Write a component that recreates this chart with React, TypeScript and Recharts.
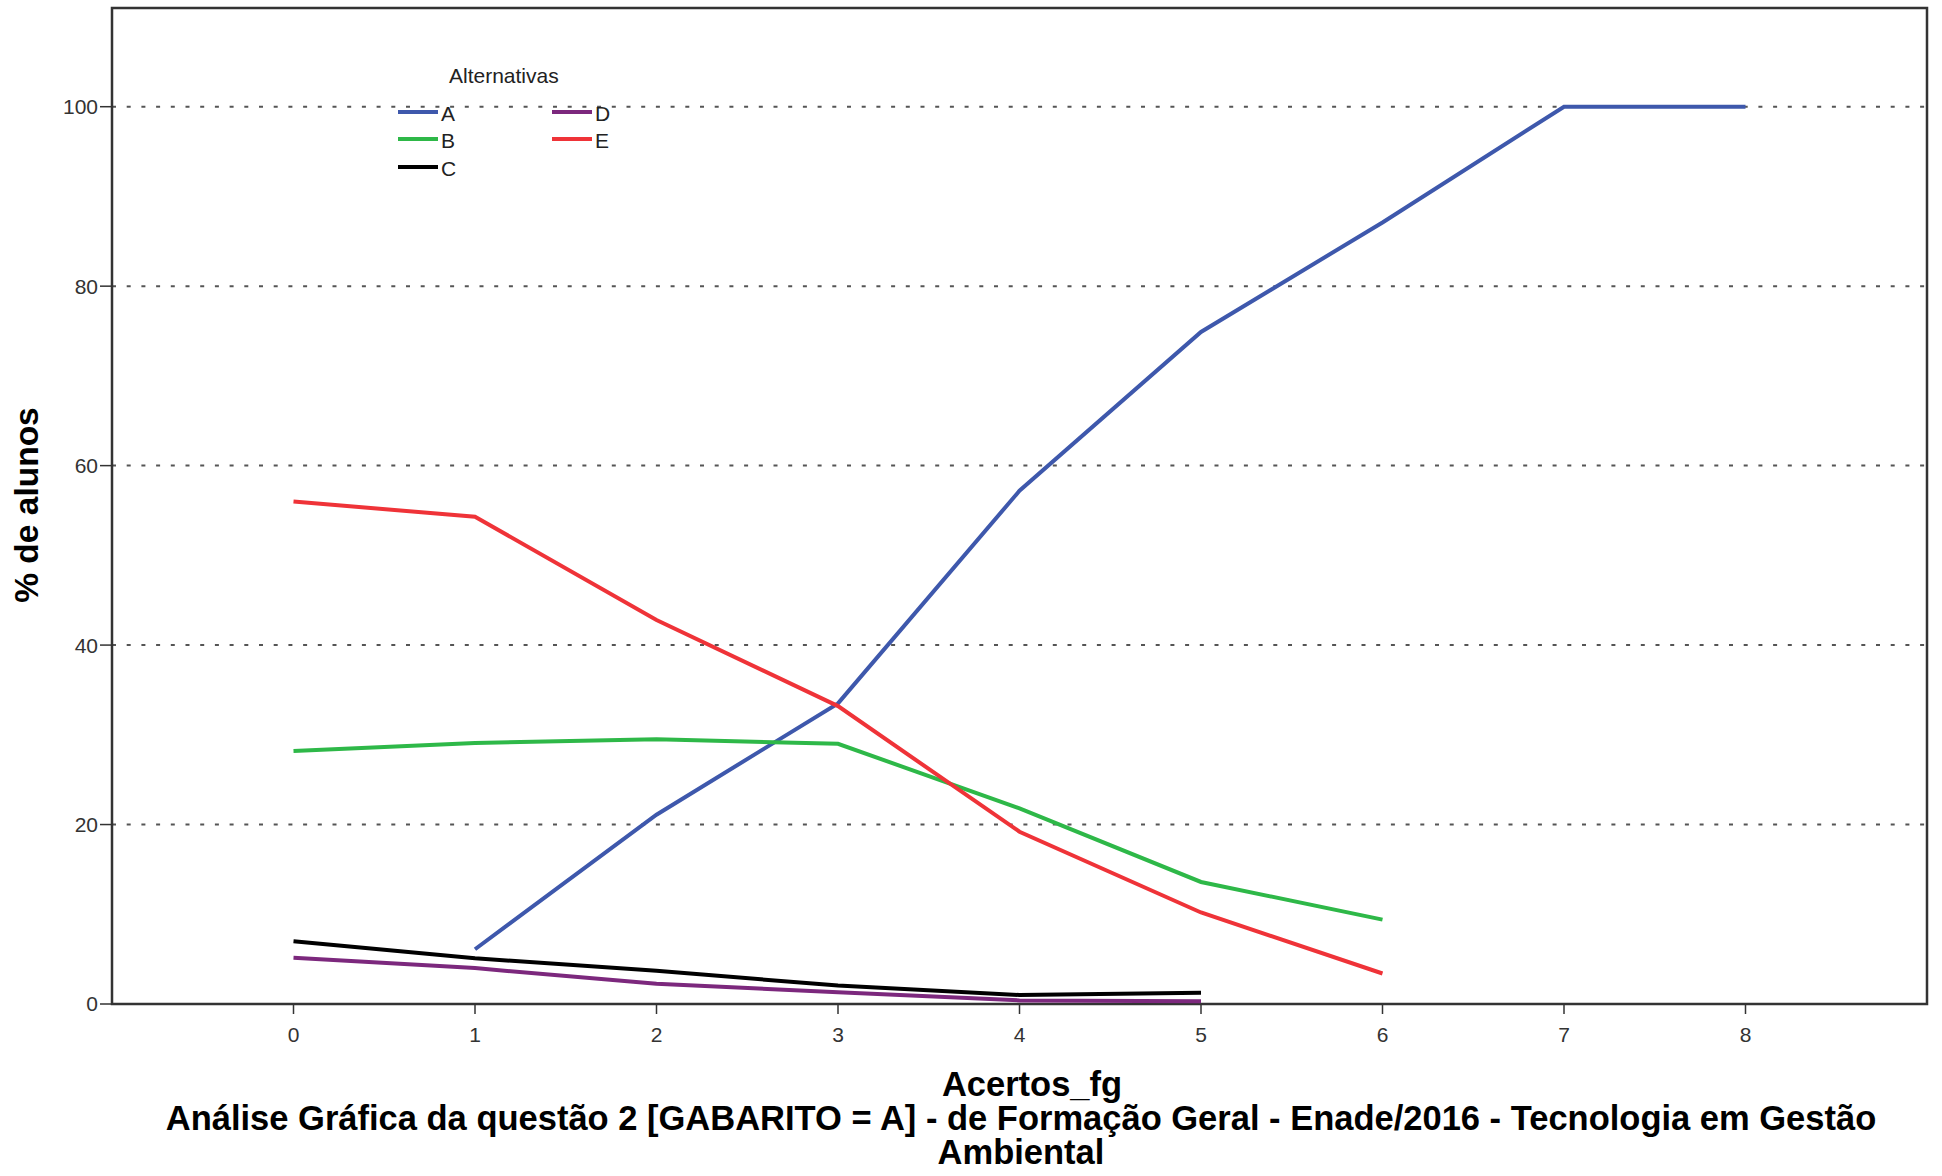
import React from 'react';
import { LineChart, Line, XAxis, YAxis, CartesianGrid, ReferenceArea } from 'recharts';

const acertos = [0, 1, 2, 3, 4, 5, 6, 7, 8];
const serieA = [null, 6.1, 21.1, 33.5, 57.2, 74.9, 87.1, 100, 100];
const serieB = [28.2, 29.1, 29.5, 29.0, 21.8, 13.6, 9.4, null, null];
const serieC = [7.0, 5.1, 3.7, 2.05, 1.0, 1.25, null, null, null];
const serieD = [5.15, 4.0, 2.25, 1.3, 0.4, 0.3, null, null, null];
const serieE = [56.0, 54.3, 42.8, 33.2, 19.2, 10.2, 3.4, null, null];

const xTicks = [0, 1, 2, 3, 4, 5, 6, 7, 8];
const yTicks = [0, 20, 40, 60, 80, 100];

const seriesNames = ['A', 'B', 'C', 'D', 'E'];
const seriesColors = ['#3E58AC', '#2EB848', '#000000', '#7C287D', '#EF3338'];
const legendTitle = 'Alternativas';
const xTitle = 'Acertos_fg';
const yTitle = '% de alunos';
const titleLines = [
  'Análise Gráfica da questão 2 [GABARITO = A] - de Formação Geral - Enade/2016 - Tecnologia em Gestão',
  'Ambiental',
];

const data = acertos.map((x, i) => ({
  acertos: x,
  A: serieA[i],
  B: serieB[i],
  C: serieC[i],
  D: serieD[i],
  E: serieE[i],
}));

const FONT = '"Liberation Sans", Arial, sans-serif';
const TITLE_SIZE = 34.5;
const LH = 32;

function LegendBox() {
  const cols = [[0, 1, 2], [3, 4]];
  const colX = [398, 552];
  const rowY = [112, 139, 167];
  return (
    <div style={{ position: 'absolute', left: 0, top: 0, width: 1942, height: 1176, pointerEvents: 'none' }}>
      <div
        style={{
          position: 'absolute',
          left: 449,
          top: 64,
          fontFamily: FONT,
          fontSize: 21,
          color: '#222',
          lineHeight: '24px',
          whiteSpace: 'nowrap',
        }}
      >
        {legendTitle}
      </div>
      {cols.map((col, ci) =>
        col.map((si, ri) => (
          <div
            key={seriesNames[si]}
            style={{ position: 'absolute', left: colX[ci], top: rowY[ri] - 12, height: 24, display: 'flex', alignItems: 'center' }}
          >
            <svg width={40} height={24} style={{ display: 'block' }}>
              <line x1={0} y1={12} x2={40} y2={12} stroke={seriesColors[si]} strokeWidth={4} />
            </svg>
            <span style={{ fontFamily: FONT, fontSize: 21, color: '#222', marginLeft: 3, lineHeight: '24px', position: 'relative', top: 2 }}>
              {seriesNames[si]}
            </span>
          </div>
        ))
      )}
    </div>
  );
}

export default function App() {
  return (
    <div style={{ position: 'absolute', left: 0, top: 0, width: 1942, height: 1176, background: '#fff' }}>
      <LineChart
        width={1942}
        height={1176}
        data={data}
        margin={{ top: 8, right: 15, bottom: 132, left: 0 }}
      >
        <CartesianGrid
          vertical={false}
          stroke="#555"
          strokeDasharray="4 10.7"
          strokeWidth={2}
          horizontalValues={yTicks}
        />
        <XAxis
          dataKey="acertos"
          type="number"
          domain={[-1, 9]}
          ticks={xTicks}
          allowDataOverflow
          height={40}
          tickSize={10}
          tickMargin={13}
          axisLine={false}
          tickLine={{ stroke: '#333', strokeWidth: 1.5 }}
          tick={{ fontFamily: FONT, fontSize: 21, fill: '#333' }}
        />
        <YAxis
          type="number"
          domain={[0, 111]}
          ticks={yTicks}
          allowDataOverflow
          width={112}
          tickSize={12}
          tickMargin={2}
          axisLine={false}
          tickLine={{ stroke: '#333', strokeWidth: 1.5 }}
          tick={{ fontFamily: FONT, fontSize: 21, fill: '#333' }}
        />
        <ReferenceArea x1={-1} x2={9} y1={0} y2={111} fill="none" stroke="#333" strokeWidth={2.5} ifOverflow="visible" />
        {seriesNames.map((name, i) => (
          <Line
            key={name}
            type="linear"
            dataKey={name}
            stroke={seriesColors[i]}
            strokeWidth={4}
            dot={false}
            activeDot={false}
            connectNulls={false}
            isAnimationActive={false}
          />
        ))}
      </LineChart>
      <LegendBox />
      <div
        style={{
          position: 'absolute',
          left: 27 - 150,
          top: 505 - 20,
          width: 300,
          height: 40,
          transform: 'rotate(-90deg)',
          textAlign: 'center',
          fontFamily: FONT,
          fontWeight: 'bold',
          fontSize: 33.5,
          lineHeight: '40px',
          color: '#000',
        }}
      >
        {yTitle}
      </div>
      <div
        style={{
          position: 'absolute',
          left: 1032 - 300,
          top: 1084 - LH / 2,
          width: 600,
          height: LH,
          textAlign: 'center',
          fontFamily: FONT,
          fontWeight: 'bold',
          fontSize: TITLE_SIZE,
          lineHeight: `${LH}px`,
          color: '#000',
        }}
      >
        {xTitle}
      </div>
      {titleLines.map((t, i) => (
        <div
          key={i}
          style={{
            position: 'absolute',
            left: 1021 - 950,
            top: 1118 + i * 34 - LH / 2,
            width: 1900,
            height: LH,
            textAlign: 'center',
            fontFamily: FONT,
            fontWeight: 'bold',
            fontSize: TITLE_SIZE,
            lineHeight: `${LH}px`,
            color: '#000',
            whiteSpace: 'nowrap',
          }}
        >
          {t}
        </div>
      ))}
    </div>
  );
}
